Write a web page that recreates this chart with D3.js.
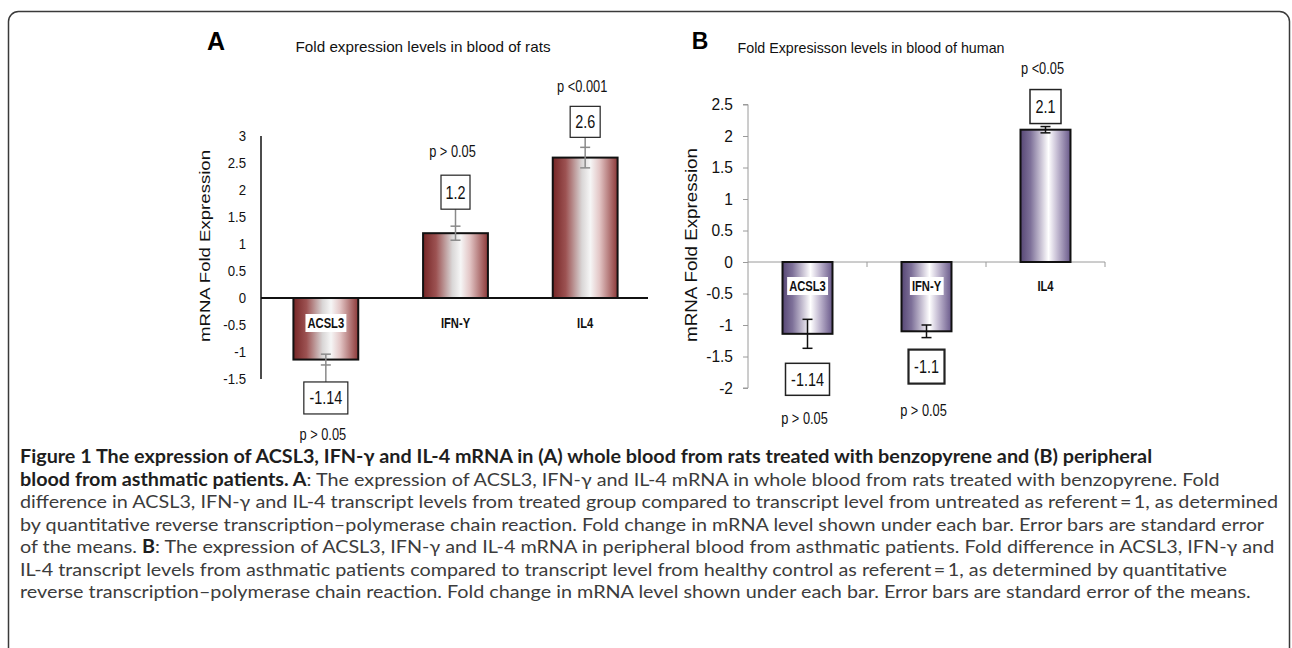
<!DOCTYPE html>
<html><head><meta charset="utf-8">
<script src="https://cdnjs.cloudflare.com/ajax/libs/d3/7.8.5/d3.min.js"></script>
<style>
html,body{margin:0;padding:0;background:#fff;}
svg{display:block;}
</style></head>
<body>
<svg id="c" width="1292" height="648"></svg>
<script>
// ---------- data ----------
const categories = ["ACSL3", "IFN-Y", "IL4"];
const ratValues = [-1.14, 1.2, 2.6];
const ratErrors = [0.1, 0.13, 0.19];
const ratValueLabels = ["-1.14", "1.2", "2.6"];
const ratPLabels = ["p > 0.05", "p > 0.05", "p <0.001"];
const ratTicks = [-1.5, -1, -0.5, 0, 0.5, 1, 1.5, 2, 2.5, 3];

const humanValues = [-1.14, -1.1, 2.1];
const humanErrors = [0.23, 0.1, 0.05];
const humanValueLabels = ["-1.14", "-1.1", "2.1"];
const humanPLabels = ["p > 0.05", "p > 0.05", "p <0.05"];
const humanTicks = [-2, -1.5, -1, -0.5, 0, 0.5, 1, 1.5, 2, 2.5];

const captionLines = [
  [["Figure 1 The expression of ACSL3, IFN-γ and IL-4 mRNA in (A) whole blood from rats treated with benzopyrene and (B) peripheral", true]],
  [["blood from asthmatic patients. A", true], [": The expression of ACSL3, IFN-γ and IL-4 mRNA in whole blood from rats treated with benzopyrene. Fold", false]],
  [["difference in ACSL3, IFN-γ and IL-4 transcript levels from treated group compared to transcript level from untreated as referent\u2009=\u20091, as determined", false]],
  [["by quantitative reverse transcription\u2013polymerase chain reaction. Fold change in mRNA level shown under each bar. Error bars are standard error", false]],
  [["of the means. ", false], ["B", true], [": The expression of ACSL3, IFN-γ and IL-4 mRNA in peripheral blood from asthmatic patients. Fold difference in ACSL3, IFN-γ and", false]],
  [["IL-4 transcript levels from asthmatic patients compared to transcript level from healthy control as referent\u2009=\u20091, as determined by quantitative", false]],
  [["reverse transcription\u2013polymerase chain reaction. Fold change in mRNA level shown under each bar. Error bars are standard error of the means.", false]]
];

// ---------- drawing ----------
const svg = d3.select("#c");
const SANS = "'Liberation Sans',Arial,sans-serif";

// condense a text horizontally (mimic a narrow typeface)
function condense(t, f) {
  const w = t.node().getComputedTextLength();
  t.attr("textLength", w * f).attr("lengthAdjust", "spacingAndGlyphs");
  return t;
}

// frame
svg.append("rect").attr("x", 8.5).attr("y", 11.5).attr("width", 1281).attr("height", 720)
  .attr("rx", 10).attr("fill", "none").attr("stroke", "#3a3a3a").attr("stroke-width", 1.5);

const defs = svg.append("defs");
function grad(id, stops) {
  const g = defs.append("linearGradient").attr("id", id).attr("x1", "0%").attr("x2", "100%").attr("y1", "0%").attr("y2", "0%");
  stops.forEach(s => g.append("stop").attr("offset", s[0]).attr("stop-color", s[1]));
}
grad("gRat", [[0, "#762626"], [0.2, "#9c5252"], [0.45, "#d9d6d6"], [0.58, "#f6f6f6"], [0.72, "#e3c6c6"], [1, "#8c3838"]]);
grad("gHum", [[0, "#574775"], [0.2, "#7e7199"], [0.45, "#d8d3e0"], [0.56, "#ffffff"], [0.72, "#c9c1d6"], [1, "#685889"]]);

function panel(cfg) {
  const g = svg.append("g");
  const x = d3.scaleBand().domain(categories).range(cfg.xRange)
    .paddingInner(cfg.pad).paddingOuter(cfg.pad / 2);
  const y = d3.scaleLinear().domain(cfg.yDomain).range(cfg.yRange);
  const y0 = y(0);

  // y axis
  const ax = d3.axisLeft(y).tickValues(cfg.ticks).tickSize(cfg.tickSize).tickPadding(cfg.tickPad)
    .tickFormat(d => String(d));
  const axG = g.append("g").attr("transform", `translate(${cfg.xRange[0]},0)`).call(ax);
  axG.select(".domain").attr("stroke", cfg.axisColor).attr("stroke-width", cfg.axisWidth)
    .attr("d", cfg.tickSize === 0 ? `M0,${cfg.yRange[1]}V${cfg.yRange[0]}`
      : `M${-cfg.tickSize},${cfg.yRange[1]}H0V${cfg.yRange[0]}H${-cfg.tickSize}`);
  axG.selectAll(".tick line").attr("stroke", cfg.axisColor);
  axG.selectAll(".tick text").attr("font-family", SANS).attr("font-size", cfg.tickSizePx)
    .attr("fill", "#111").each(function () { condense(d3.select(this), cfg.tickCond); });

  // zero line
  g.append("line").attr("x1", cfg.xRange[0]).attr("x2", cfg.zeroEnd).attr("y1", y0).attr("y2", y0)
    .attr("stroke", cfg.zeroColor).attr("stroke-width", cfg.zeroWidth);
  if (cfg.catTicks) {
    const bounds = categories.map(c => x(c) + x.bandwidth() + x.step() * cfg.pad / 2);
    g.selectAll(".ct").data(bounds).enter().append("line")
      .attr("x1", d => d).attr("x2", d => d).attr("y1", y0).attr("y2", y0 + 5)
      .attr("stroke", cfg.zeroColor).attr("stroke-width", 1);
  }

  const data = categories.map((c, i) => ({
    c, v: cfg.values[i], e: cfg.errors[i], vl: cfg.valueLabels[i], pl: cfg.pLabels[i],
    gap: cfg.boxGap[i], pgap: cfg.pGap[i], bw: cfg.boxW[i], bh: cfg.boxH[i], bsw: cfg.boxStroke[i]
  }));

  // bars
  g.selectAll(".bar").data(data).enter().append("rect")
    .attr("x", d => x(d.c)).attr("width", x.bandwidth())
    .attr("y", d => Math.min(y(d.v), y0)).attr("height", d => Math.abs(y(d.v) - y0))
    .attr("fill", `url(#${cfg.grad})`).attr("stroke", "#111").attr("stroke-width", 2);

  if (cfg.zeroOnTop) g.append("line").attr("x1", cfg.xRange[0]).attr("x2", cfg.zeroEnd).attr("y1", y0).attr("y2", y0)
    .attr("stroke", cfg.zeroColor).attr("stroke-width", cfg.zeroWidth);

  // category labels with white background on the bars
  data.forEach(d => {
    const cx = x(d.c) + x.bandwidth() / 2;
    const t = g.append("text").attr("x", cx).attr("y", cfg.catY).attr("text-anchor", "middle")
      .attr("font-family", SANS).attr("font-weight", "bold").attr("font-size", 14).attr("fill", "#111").text(d.c);
    condense(t, 0.8);
    if (d.v < 0) {
      const bb = t.node().getBBox();
      g.insert("rect", () => t.node()).attr("x", bb.x - 2).attr("y", bb.y - 1)
        .attr("width", bb.width + 4).attr("height", bb.height + 2).attr("fill", "#fff");
    }
  });

  // error bars, boxes, p labels
  data.forEach(d => {
    const cx = x(d.c) + x.bandwidth() / 2;
    const yTop = y(d.v + d.e), yBot = y(d.v - d.e);
    const eg = g.append("g").attr("stroke", cfg.errColor).attr("stroke-width", 1.5);
    eg.append("line").attr("x1", cx).attr("x2", cx).attr("y1", yTop).attr("y2", yBot);
    eg.append("line").attr("x1", cx - 5).attr("x2", cx + 5).attr("y1", yTop).attr("y2", yTop);
    eg.append("line").attr("x1", cx - 5).attr("x2", cx + 5).attr("y1", yBot).attr("y2", yBot);

    const neg = d.v < 0;
    const end = neg ? yBot : yTop;
    const boxY = neg ? end + d.gap : end - d.gap - d.bh;
    if (cfg.leader) {
      g.append("line").attr("x1", cx).attr("x2", cx).attr("y1", end)
        .attr("y2", neg ? boxY : boxY + d.bh).attr("stroke", cfg.errColor).attr("stroke-width", 1.5);
    }
    g.append("rect").attr("x", cx - d.bw / 2).attr("y", boxY).attr("width", d.bw).attr("height", d.bh)
      .attr("fill", "#fff").attr("stroke", "#222").attr("stroke-width", d.bsw);
    condense(g.append("text").attr("x", cx).attr("y", boxY + d.bh / 2).attr("dy", "0.36em").attr("text-anchor", "middle")
      .attr("font-family", SANS).attr("font-size", 18).attr("fill", "#111").text(d.vl), 0.8);
    const py = neg ? boxY + d.bh + d.pgap : boxY - d.pgap;
    condense(g.append("text").attr("x", cx - 3).attr("y", py).attr("dy", "0.36em").attr("text-anchor", "middle")
      .attr("font-family", SANS).attr("font-size", 16).attr("fill", "#111").text(d.pl), 0.8);
  });

  // titles
  g.append("text").attr("x", cfg.letterX).attr("y", cfg.letterY).attr("text-anchor", "middle")
    .attr("font-family", SANS).attr("font-weight", "bold")
    .attr("font-size", cfg.letterSize).attr("fill", "#000").text(cfg.letter);
  g.append("text").attr("x", cfg.titleX).attr("y", cfg.titleY).attr("text-anchor", "middle")
    .attr("font-family", SANS).attr("font-size", 15).attr("fill", "#111")
    .attr("textLength", cfg.titleLen).attr("lengthAdjust", "spacingAndGlyphs").text(cfg.title);
  g.append("text").attr("transform", `translate(${cfg.ytX},${cfg.ytY}) rotate(-90)`).attr("text-anchor", "middle")
    .attr("dy", "0.35em").attr("font-family", SANS).attr("font-size", cfg.ytSize).attr("fill", "#111")
    .attr("textLength", cfg.ytLen).attr("lengthAdjust", "spacingAndGlyphs").text("mRNA Fold Expression");
}

panel({
  xRange: [261, 650], pad: 0.5, yDomain: [-1.5, 3], yRange: [379, 136], ticks: ratTicks,
  tickSize: 0, tickPad: 15, tickSizePx: 15, tickCond: 0.88, axisColor: "#111", axisWidth: 1.5,
  zeroEnd: 648, zeroColor: "#111", zeroWidth: 2, zeroOnTop: true, catTicks: false,
  values: ratValues, errors: ratErrors, valueLabels: ratValueLabels, pLabels: ratPLabels,
  boxGap: [17, 17, 10], pGap: [20, 24, 20], boxW: [44, 29, 30], boxH: [32, 34, 31], boxStroke: [1.2, 1.2, 1.2],
  grad: "gRat", errColor: "#8a8a8a", leader: true, catY: 328,
  letter: "A", letterX: 216, letterY: 50, letterSize: 25,
  title: "Fold expression levels in blood of rats", titleX: 423, titleY: 52, titleLen: 255,
  ytX: 205, ytY: 246, ytLen: 192, ytSize: 15
});

panel({
  xRange: [748, 1105], pad: 0.58, yDomain: [-2, 2.5], yRange: [388, 104.5], ticks: humanTicks,
  tickSize: 5, tickPad: 10, tickSizePx: 16, tickCond: 0.97, axisColor: "#9a9a9a", axisWidth: 1,
  zeroEnd: 1105, zeroColor: "#9a9a9a", zeroWidth: 1, zeroOnTop: false, catTicks: true,
  values: humanValues, errors: humanErrors, valueLabels: humanValueLabels, pLabels: humanPLabels,
  boxGap: [15, 12, 3], pGap: [23, 27, 21], boxW: [44, 36, 31], boxH: [32, 34, 34], boxStroke: [1.5, 2.2, 1.5],
  grad: "gHum", errColor: "#111", leader: false, catY: 291,
  letter: "B", letterX: 700, letterY: 49, letterSize: 23,
  title: "Fold Expresisson levels in blood of human", titleX: 871, titleY: 53, titleLen: 267,
  ytX: 691, ytY: 245, ytLen: 194, ytSize: 16
});

// caption: one font size whose line box fits the line pitch; a uniform
// horizontal stretch makes the widest line end where the reference's does
const capFont = "Lato,'Open Sans',sans-serif";
const capG = svg.append("g");
const lineY0 = 457, lineStep = 22.5, capX = 20, capRight = 1278;
const texts = captionLines.map((segs, i) => {
  const t = capG.append("text").attr("x", capX).attr("y", lineY0 + i * lineStep).attr("dy", "0.35em")
    .attr("font-family", capFont).attr("font-size", 18).attr("fill", "#3c3c3c");
  segs.forEach(s => t.append("tspan").attr("font-weight", s[1] ? "bold" : "normal")
    .attr("fill", s[1] ? "#1e1e1e" : "#3c3c3c").text(s[0]));
  return t;
});
const h18 = texts[2].node().getBBox().height;
const fs = Math.min(18 * (capRight - capX) / d3.max(texts, t => t.node().getComputedTextLength()),
                    18 * (lineStep - 0.4) / h18);
texts.forEach(t => t.attr("font-size", fs));
const maxW = d3.max(texts, t => t.node().getComputedTextLength());
const k = (capRight - capX) / maxW;
texts.forEach(t => t.attr("textLength", t.node().getComputedTextLength() * k).attr("lengthAdjust", "spacingAndGlyphs"));
</script>
</body></html>
